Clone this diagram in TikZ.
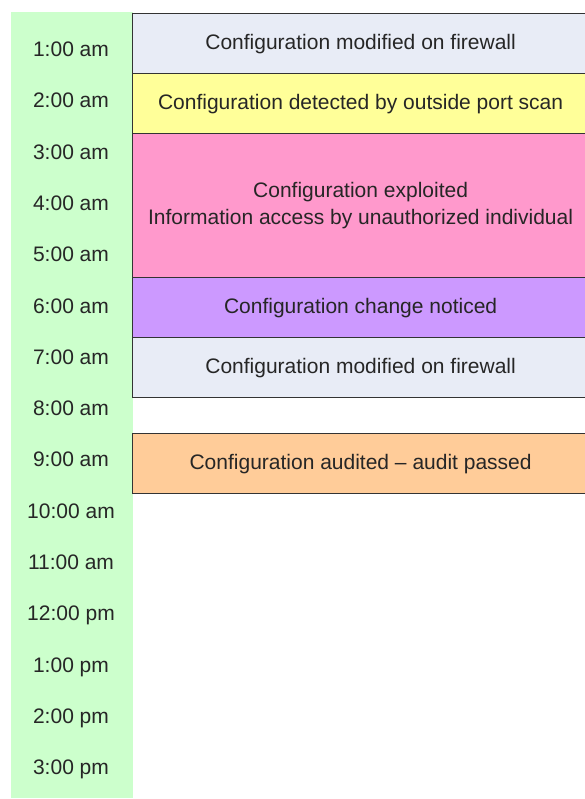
\documentclass[tikz,border=0pt]{standalone}
\usepackage{fontspec}
\setmainfont{Liberation Sans}
\definecolor{colgreen}{HTML}{CCFFCC}
\definecolor{colgray}{HTML}{E8ECF6}
\definecolor{colyellow}{HTML}{FFFF99}
\definecolor{colpink}{HTML}{FF99CC}
\definecolor{colviolet}{HTML}{CC99FF}
\definecolor{colorange}{HTML}{FFCC99}
\definecolor{txt}{HTML}{262626}
\definecolor{bord}{HTML}{333333}
\begin{document}
\begin{tikzpicture}[x=1pt,y=-1pt,
  lbl/.style={font=\fontsize{21}{27}\selectfont, text=txt, anchor=base, inner sep=0pt},
  evbox/.style={draw=bord, line width=1.2pt, minimum width=456pt, inner sep=0pt,
    font=\fontsize{21}{27}\selectfont, text=txt, align=center, anchor=north west},
  oneline/.style={evbox, minimum height=60pt, text height=15.5pt, text depth=4.5pt}]
\useasboundingbox (0,0) rectangle (584,799);
\fill[colgreen] (11,12) rectangle (133,798);
\foreach \i/\t in {1/1:00 am,2/2:00 am,3/3:00 am,4/4:00 am,5/5:00 am,6/6:00 am,7/7:00 am,8/8:00 am,9/9:00 am,10/10:00 am,11/11:00 am,12/12:00 pm,13/1:00 pm,14/2:00 pm,15/3:00 pm}
  \node[lbl] (t\i) at (71,{56.5+51.3*(\i-1)}) {\t};
\node[oneline, fill=colgray] (e1) at (132,13) {Configuration modified on firewall};
\node[oneline, fill=colyellow] (e2) at (132,73) {Configuration detected by outside port scan};
\node[evbox, fill=colpink, minimum height=144pt] (e3) at (132,133) {Configuration exploited\\Information access by unauthorized individual};
\node[oneline, fill=colviolet] (e4) at (132,277) {Configuration change noticed};
\node[oneline, fill=colgray] (e5) at (132,337) {Configuration modified on firewall};
\node[oneline, fill=colorange] (e6) at (132,433) {Configuration audited -- audit passed};
\end{tikzpicture}
\end{document}
